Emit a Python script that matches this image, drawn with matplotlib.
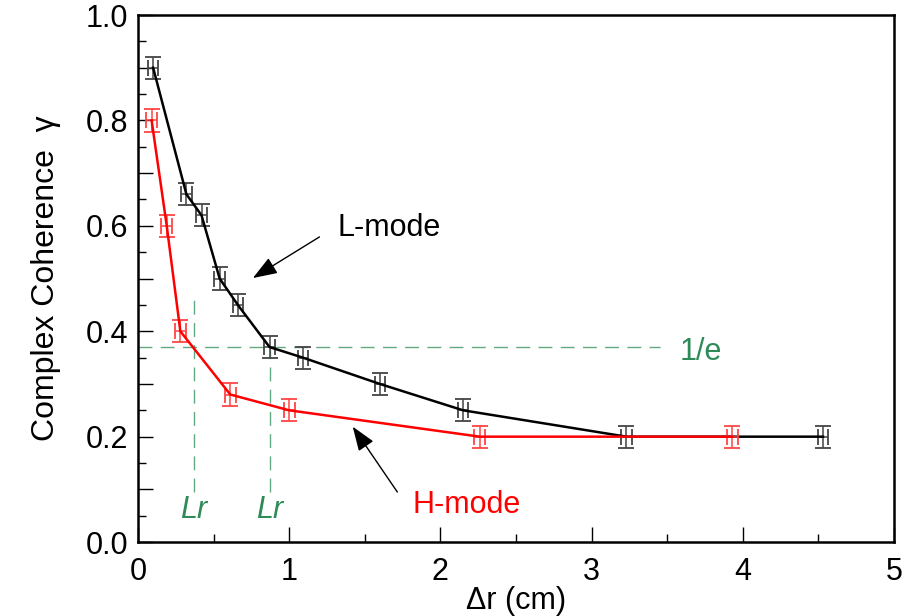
import matplotlib.pyplot as plt
import numpy as np

plt.rcParams['font.family'] = ['Liberation Sans', 'DejaVu Sans']

# L-mode coherence vs radial separation
dr_l = [0.10, 0.32, 0.42, 0.54, 0.66, 0.87, 1.09, 1.60, 2.15, 3.23, 4.53]
gam_l = [0.90, 0.66, 0.62, 0.50, 0.45, 0.37, 0.35, 0.30, 0.25, 0.20, 0.20]

# H-mode coherence vs radial separation
dr_h = [0.09, 0.19, 0.28, 0.61, 1.00, 2.26, 3.93]
gam_h = [0.80, 0.60, 0.40, 0.28, 0.25, 0.20, 0.20]

xerr = 0.035
yerr = 0.021
inv_e = 0.37
lr_h = 0.37
lr_l = 0.87

fig = plt.figure(figsize=(9.17, 6.16), dpi=100)
ax = fig.add_axes([0.1505, 0.12, 0.8245, 0.8556])

ax.errorbar(dr_l, gam_l, xerr=xerr, yerr=yerr, color='black', lw=1.8,
            elinewidth=1.1, capsize=5.5, capthick=1.3, ecolor='#444444', zorder=3)
ax.errorbar(dr_h, gam_h, xerr=xerr, yerr=yerr, color='red', lw=1.8,
            elinewidth=1.1, capsize=5.5, capthick=1.3, ecolor='#ff4444', zorder=4)

green = '#2e8b57'
dash = dict(color=green, lw=1.0, dashes=(10, 6), alpha=0.75, zorder=2)
ax.plot([0, 3.45], [inv_e, inv_e], **dash)
ax.plot([lr_h, lr_h], [0.095, 0.465], **dash)
ax.plot([lr_l, lr_l], [0.095, inv_e], **dash)

fs = 22
ax.text(3.72, inv_e - 0.01, '1/e', color=green, fontsize=fs, ha='center', va='center')
ax.text(lr_h, 0.06, 'Lr', color=green, fontsize=fs, style='italic', ha='center', va='center')
ax.text(lr_l, 0.06, 'Lr', color=green, fontsize=fs, style='italic', ha='center', va='center')

head = '-|>,head_length=1.5,head_width=0.55'
ax.annotate('', xy=(0.76, 0.501), xytext=(1.20, 0.579),
            arrowprops=dict(arrowstyle=head, color='black', lw=1.0, shrinkA=0, shrinkB=0))
ax.text(1.66, 0.595, 'L-mode', fontsize=fs, ha='center', va='center')

ax.annotate('', xy=(1.42, 0.219), xytext=(1.715, 0.095),
            arrowprops=dict(arrowstyle=head, color='black', lw=1.0, shrinkA=0, shrinkB=0))
ax.text(2.17, 0.07, 'H-mode', fontsize=fs, color='red', ha='center', va='center')

ax.set_xlim(0, 5)
ax.set_ylim(0, 1.0)
ax.set_xticks(np.arange(0, 6, 1))
ax.set_xticks(np.arange(0.5, 5, 1), minor=True)
yt = np.round(np.arange(0, 1.01, 0.1), 1)
ax.set_yticks(yt)
ax.set_yticklabels([f'{v:.1f}' if round(v * 10) % 2 == 0 else '' for v in yt])
ax.set_yticks(np.arange(0.05, 1.0, 0.1), minor=True)
ax.tick_params(which='major', direction='in', length=11, width=1.0, labelsize=22)
ax.tick_params(which='minor', direction='in', length=5.5, width=1.0)
ax.tick_params(axis='y', which='major', pad=7)
ax.tick_params(axis='x', which='major', pad=11)
for s in ax.spines.values():
    s.set_linewidth(1.8)

ax.set_xlabel('\u0394r (cm)', fontsize=fs, labelpad=-1)
ax.set_ylabel('Complex Coherence  \u03b3', fontsize=23, labelpad=18)

fig.savefig('out.png', dpi=100)
